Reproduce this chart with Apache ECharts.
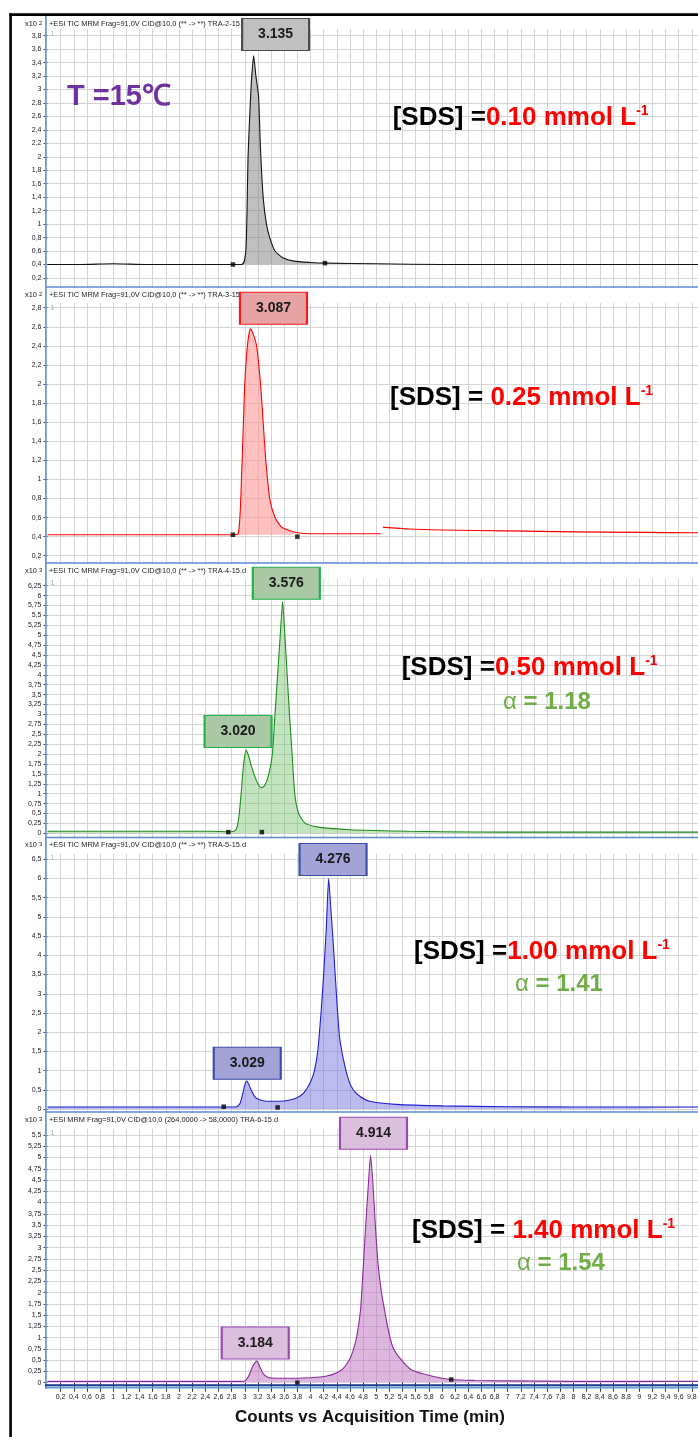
<!DOCTYPE html>
<html>
<head>
<meta charset="utf-8">
<script src="https://cdn.jsdelivr.net/npm/echarts@6/dist/echarts.min.js"></script>
<style>
  html, body { margin: 0; padding: 0; background: #fff; }
  #chart { width: 698px; height: 1437px; }
</style>
</head>
<body>
<div id="chart"></div>
<script>
// ---- Chromatogram traces: retention time (min) and counts (scaled by 10^n) ----
const timeP1  = [0, 0.5, 1.0, 1.5, 2.0, 2.5, 2.82, 2.95, 2.98, 3.0, 3.02, 3.035, 3.05, 3.08, 3.10, 3.135, 3.17, 3.21, 3.24, 3.28, 3.33, 3.38, 3.46, 3.58, 3.75, 4.0, 4.22, 5.0, 6.0, 7.0, 8.0, 9.0, 10.0];
const countP1 = [0.40, 0.40, 0.41, 0.40, 0.40, 0.40, 0.40, 0.40, 0.42, 0.48, 0.65, 1.2, 2.0, 2.7, 3.1, 3.5, 3.2, 2.9, 2.1, 1.4, 1.0, 0.8, 0.6, 0.5, 0.45, 0.43, 0.42, 0.41, 0.40, 0.40, 0.40, 0.40, 0.40];

const timeP2  = [0, 0.5, 1, 1.5, 2, 2.5, 2.82, 2.90, 2.93, 2.95, 2.975, 3.0, 3.04, 3.087, 3.13, 3.18, 3.24, 3.28, 3.32, 3.38, 3.46, 3.56, 3.7, 3.8, 4.0, 4.5, 5.07, 5.085, 5.1, 5.5, 6, 7, 8, 9, 10];
const countP2 = [0.42, 0.42, 0.42, 0.42, 0.42, 0.42, 0.42, 0.43, 0.65, 1.0, 1.5, 2.0, 2.4, 2.58, 2.52, 2.4, 2.0, 1.6, 1.2, 0.8, 0.6, 0.5, 0.46, 0.44, 0.43, 0.43, 0.43, '-', 0.50, 0.48, 0.47, 0.46, 0.45, 0.445, 0.44];

const timeP3  = [0, 1, 2, 2.5, 2.75, 2.85, 2.89, 2.92, 2.95, 2.98, 3.02, 3.06, 3.10, 3.15, 3.20, 3.25, 3.30, 3.36, 3.42, 3.46, 3.50, 3.54, 3.576, 3.61, 3.645, 3.68, 3.72, 3.76, 3.82, 3.92, 4.05, 4.25, 4.6, 5.0, 5.5, 6.0, 7.0, 8.0, 9.0, 10.0];
const countP3 = [0.05, 0.05, 0.05, 0.05, 0.04, 0.06, 0.2, 0.55, 1.1, 1.7, 2.1, 1.95, 1.7, 1.45, 1.25, 1.15, 1.2, 1.45, 2.0, 3.0, 4.0, 5.0, 5.85, 5.0, 4.0, 3.0, 2.0, 1.0, 0.5, 0.25, 0.18, 0.13, 0.09, 0.07, 0.05, 0.04, 0.03, 0.03, 0.03, 0.03];

const timeP4  = [0, 1, 2, 2.68, 2.88, 2.93, 2.97, 3.0, 3.029, 3.06, 3.10, 3.15, 3.20, 3.30, 3.45, 3.60, 3.70, 3.80, 3.90, 4.00, 4.06, 4.11, 4.16, 4.20, 4.24, 4.276, 4.31, 4.35, 4.39, 4.44, 4.50, 4.58, 4.65, 4.75, 4.90, 5.30, 6.0, 7.0, 8.0, 9.0, 10.0];
const countP4 = [0.05, 0.05, 0.05, 0.05, 0.06, 0.15, 0.4, 0.62, 0.73, 0.65, 0.48, 0.33, 0.26, 0.21, 0.2, 0.21, 0.24, 0.3, 0.42, 0.7, 1.0, 1.5, 2.5, 3.5, 4.7, 6.0, 5.2, 4.2, 3.1, 1.9, 1.3, 0.75, 0.5, 0.33, 0.2, 0.12, 0.08, 0.06, 0.05, 0.05, 0.05];

const timeP5  = [0, 1, 2, 2.9, 3.0, 3.06, 3.12, 3.184, 3.23, 3.28, 3.35, 3.5, 3.8, 4.0, 4.25, 4.4, 4.5, 4.58, 4.64, 4.7, 4.76, 4.8, 4.84, 4.88, 4.914, 4.95, 4.99, 5.03, 5.08, 5.14, 5.19, 5.25, 5.34, 5.54, 5.84, 6.14, 6.5, 7, 8, 9, 10];
const countP5 = [0.03, 0.03, 0.03, 0.03, 0.04, 0.15, 0.36, 0.48, 0.35, 0.2, 0.12, 0.1, 0.1, 0.11, 0.15, 0.22, 0.32, 0.48, 0.68, 1.0, 1.6, 2.5, 3.5, 4.4, 5.05, 4.4, 3.4, 2.6, 2.0, 1.5, 1.13, 0.8, 0.58, 0.28, 0.15, 0.07, 0.05, 0.04, 0.03, 0.03, 0.03];

// ---- Integration start/end markers ----
const markerTimeP1 = [2.82, 4.22], markerCountP1 = [0.40, 0.42];
const markerTimeP2 = [2.82, 3.80], markerCountP2 = [0.42, 0.40];
const markerTimeP3 = [2.75, 3.26], markerCountP3 = [0.03, 0.03];
const markerTimeP4 = [2.68, 3.50], markerCountP4 = [0.06, 0.04];
const markerTimeP5 = [3.80, 6.14], markerCountP5 = [0.00, 0.07];

// ---- Labelled peak retention times ----
const peakTimesP1 = [3.135];
const peakTimesP2 = [3.087];
const peakTimesP3 = [3.020, 3.576];
const peakTimesP4 = [3.029, 4.276];
const peakTimesP5 = [3.184, 4.914];

// ---- Annotations ----
const sdsLevels = ['0.10', '0.25', '0.50', '1.00', '1.40'];
const alphaValues = [null, null, '1.18', '1.41', '1.54'];
const scaleExponents = ['2', '2', '3', '3', '3'];
const traceTitles = [
  '+ESI TIC MRM Frag=91,0V CID@10,0 (** -> **) TRA-2-15.d',
  '+ESI TIC MRM Frag=91,0V CID@10,0 (** -> **) TRA-3-15.d',
  '+ESI TIC MRM Frag=91,0V CID@10,0 (** -> **) TRA-4-15.d',
  '+ESI TIC MRM Frag=91,0V CID@10,0 (** -> **) TRA-5-15.d',
  '+ESI MRM Frag=91,0V CID@10,0 (264,0000 -> 58,0000) TRA-6-15.d'
];
const temperatureLabel = 'T =15\u2103';
const xAxisTitle = 'Counts vs Acquisition Time (min)';

// ---- Axis ticks ----
const xRange = [0, 10];
const xTickStep = 0.2;
const yRanges = [[0, 3.9], [0, 2.85], [-0.25, 6.45], [-0.5, 6.65], [0, 5.65]];
const yTickSteps = [0.2, 0.2, 0.25, 0.5, 0.25];

// ---- Layout and styling ----
const FONT = '"Liberation Sans", Arial, Helvetica, sans-serif';
const PLOT_LEFT = 47.5, PLOT_WIDTH = 657.5;
const GRID_COLOR = '#d5d5d5';

const panels = [
  { top: 16,    gridTop: 28.97,   gridBottom: 291.4,
    line: '#111111', fill: 'rgba(128,128,128,0.5)', fillToBaseline: true,
    boxFill: '#c0c0c0', boxBorder: '#4a4a4a', boxOffsets: [[22, -21.4]],
    sdsPos: [392.7, 117.7], sdsEq: '[SDS] =', alphaPos: null },
  { top: 287,   gridTop: 302.93,  gridBottom: 574.8,
    line: '#ff0000', fill: 'rgba(255,150,150,0.6)', fillToBaseline: true,
    boxFill: '#e5a3a3', boxBorder: '#ff1a1a', boxOffsets: [[23, -20.4]],
    sdsPos: [390, 398], sdsEq: '[SDS] = ', alphaPos: null },
  { top: 563,   gridTop: 577.78,  gridBottom: 843.2,
    line: '#1e8c1e', fill: 'rgba(110,190,100,0.42)', fillToBaseline: false,
    boxFill: '#a8c9a3', boxBorder: '#22b04b', boxOffsets: [[-8, -18.6], [3.7, -18.2]],
    sdsPos: [401.7, 668], sdsEq: '[SDS] =', alphaPos: [503, 702] },
  { top: 837.5, gridTop: 853.54,  gridBottom: 1128.2,
    line: '#1f1fd0', fill: 'rgba(120,120,225,0.5)', fillToBaseline: false,
    boxFill: '#a3a3d8', boxBorder: '#3b4ea5', boxOffsets: [[0.6, -17.6], [4.4, -19]],
    sdsPos: [414, 952], sdsEq: '[SDS] =', alphaPos: [515, 984] },
  { top: 1112,  gridTop: 1128.25, gridBottom: 1382.7,
    line: '#8b2a9b', fill: 'rgba(185,110,190,0.5)', fillToBaseline: false,
    boxFill: '#dcbedf', boxBorder: '#9a4ab0', boxOffsets: [[-1.6, -18.1], [2.9, -22]],
    sdsPos: [412, 1231], sdsEq: '[SDS] = ', alphaPos: [517, 1263] }
];

const traces = [
  { time: timeP1, count: countP1, mt: markerTimeP1, mc: markerCountP1, peaks: peakTimesP1 },
  { time: timeP2, count: countP2, mt: markerTimeP2, mc: markerCountP2, peaks: peakTimesP2 },
  { time: timeP3, count: countP3, mt: markerTimeP3, mc: markerCountP3, peaks: peakTimesP3 },
  { time: timeP4, count: countP4, mt: markerTimeP4, mc: markerCountP4, peaks: peakTimesP4 },
  { time: timeP5, count: countP5, mt: markerTimeP5, mc: markerCountP5, peaks: peakTimesP5 }
];

const commaNum = v => String(Math.round(v * 100) / 100).replace('.', ',');

const grids = [], xAxes = [], yAxes = [], series = [], graphics = [];
const last = panels.length - 1;

panels.forEach((p, i) => {
  grids.push({
    left: PLOT_LEFT, top: p.gridTop, width: PLOT_WIDTH, height: p.gridBottom - p.gridTop,
    containLabel: false, outerBoundsMode: 'none'
  });
  xAxes.push({
    type: 'value', gridIndex: i, min: xRange[0], max: xRange[1], interval: xTickStep,
    axisLine: { show: false },
    axisTick: { show: i === last, length: 9, lineStyle: { color: '#333', width: 1 } },
    axisLabel: {
      show: i === last, fontSize: 7, color: '#222', fontFamily: FONT, margin: 11,
      showMinLabel: false, showMaxLabel: false, formatter: commaNum
    },
    splitLine: { show: true, showMinLine: false, showMaxLine: false, lineStyle: { color: GRID_COLOR, width: 1 } }
  });
  yAxes.push({
    type: 'value', gridIndex: i, min: yRanges[i][0], max: yRanges[i][1], interval: yTickSteps[i],
    axisLine: { show: false },
    axisTick: { show: true, length: 4, lineStyle: { color: '#444', width: 1 } },
    axisLabel: {
      fontSize: 7, color: '#222', fontFamily: FONT, margin: 6,
      showMinLabel: i === last, showMaxLabel: false, formatter: commaNum
    },
    splitLine: { show: true, showMinLine: false, showMaxLine: false, lineStyle: { color: GRID_COLOR, width: 1 } }
  });

  const tr = traces[i];
  const pts = tr.time.map((t, k) => [t, tr.count[k]]);

  if (p.fillToBaseline) {
    // integrated peak area, filled down to the integration baseline
    const seg = pts.filter(d => d[0] >= tr.mt[0] && d[0] <= tr.mt[1]);
    series.push({
      type: 'line', xAxisIndex: i, yAxisIndex: i, data: seg, smooth: 0.2,
      symbol: 'none', silent: true, z: 2,
      lineStyle: { width: 0 },
      areaStyle: { color: p.fill, opacity: 1, origin: tr.mc[0] }
    });
  }

  series.push({
    type: 'line', xAxisIndex: i, yAxisIndex: i, data: pts, smooth: 0.2,
    symbol: 'none', silent: true, connectNulls: false, z: 2,
    lineStyle: { color: p.line, width: 1.1 },
    areaStyle: p.fillToBaseline ? undefined : { color: p.fill, opacity: 1 },
    markPoint: {
      silent: true,
      symbol: 'rect', symbolSize: [67, 32],
      itemStyle: { color: p.boxFill, borderColor: p.boxBorder, borderWidth: 1.5 },
      label: {
        show: true, position: 'inside', formatter: '{b}',
        fontFamily: FONT, fontWeight: 'bold', fontSize: 14, color: '#1a1a1a'
      },
      emphasis: { disabled: true },
      data: tr.peaks.map((t, k) => ({
        name: t.toFixed(3),
        coord: [t, tr.count[tr.time.indexOf(t)]],
        symbolOffset: p.boxOffsets[k]
      }))
    }
  });

  series.push({
    type: 'scatter', xAxisIndex: i, yAxisIndex: i, silent: true, z: 3,
    data: tr.mt.map((t, k) => [t, tr.mc[k]]),
    symbol: 'rect', symbolSize: 4.5, itemStyle: { color: '#000' }
  });

  // white header strip of each panel
  if (i > 0) {
    graphics.push({ type: 'rect', z: 1, silent: true,
      shape: { x: 13, y: p.top + 1, width: 690, height: p.gridTop - p.top - 1 },
      style: { fill: '#ffffff' } });
  }
  // header line above each trace
  const headY = p.top + 7.5;
  graphics.push({ type: 'text', z: 1.5, silent: true, x: 49, y: headY,
    style: { text: traceTitles[i], fontFamily: FONT, fontSize: 7.4, fill: '#222',
             verticalAlign: 'middle', align: 'left' } });
  graphics.push({ type: 'text', z: 3, silent: true, x: 25, y: headY,
    style: { text: '{a|x10 }{b|' + scaleExponents[i] + '}', verticalAlign: 'middle', align: 'left',
             rich: { a: { fontFamily: FONT, fontSize: 7.4, fill: '#222' },
                     b: { fontFamily: FONT, fontSize: 6, fill: '#222', verticalAlign: 'top' } } } });
  graphics.push({ type: 'text', z: 3, silent: true, x: 50.5, y: p.gridTop + 5,
    style: { text: '1', fontFamily: FONT, fontSize: 7, fill: '#aaa', verticalAlign: 'middle' } });

  // concentration annotation
  graphics.push({ type: 'text', z: 3, silent: true, x: p.sdsPos[0], y: p.sdsPos[1],
    style: {
      text: '{a|' + p.sdsEq + '}{b|' + sdsLevels[i] + ' mmol L}{c|-1}',
      verticalAlign: 'middle', align: 'left',
      rich: {
        a: { fontFamily: FONT, fontWeight: 'bold', fontSize: 26, fill: '#000', lineHeight: 28 },
        b: { fontFamily: FONT, fontWeight: 'bold', fontSize: 26, fill: '#ff0000', lineHeight: 28 },
        c: { fontFamily: FONT, fontWeight: 'bold', fontSize: 14, fill: '#ff0000', verticalAlign: 'top', lineHeight: 16 }
      }
    } });
  if (alphaValues[i]) {
    graphics.push({ type: 'text', z: 3, silent: true, x: p.alphaPos[0], y: p.alphaPos[1],
      style: {
        text: '{a|\u03b1 }{b|= ' + alphaValues[i] + '}',
        verticalAlign: 'middle', align: 'left',
        rich: {
          a: { fontFamily: FONT, fontSize: 24, fill: '#70ad47' },
          b: { fontFamily: FONT, fontWeight: 'bold', fontSize: 24, fill: '#70ad47' }
        }
      } });
  }
  // panel separator
  if (i > 0) {
    graphics.push({ type: 'rect', z: 4, silent: true,
      shape: { x: 45, y: p.top - 0.75, width: 660, height: 1.6 }, style: { fill: '#5b8ad0' } });
  }
});

// panel left edge and bottom axis band
graphics.push({ type: 'rect', z: 4, silent: true, shape: { x: 45, y: 15, width: 1.8, height: 1374 }, style: { fill: '#6f9ad6' } });
graphics.push({ type: 'rect', z: 4, silent: true, shape: { x: 45, y: 1384.3, width: 660, height: 2 }, style: { fill: '#1f3a8a' } });
graphics.push({ type: 'rect', z: 4, silent: true, shape: { x: 45, y: 1386.8, width: 660, height: 1.8 }, style: { fill: '#5b9ae0' } });
// outer black frame
graphics.push({ type: 'rect', z: 6, silent: true, shape: { x: 9.3, y: 13.3, width: 2.6, height: 1430 }, style: { fill: '#000' } });
graphics.push({ type: 'rect', z: 6, silent: true, shape: { x: 9.3, y: 13.3, width: 695, height: 2.7 }, style: { fill: '#000' } });
// temperature tag
graphics.push({ type: 'text', z: 3, silent: true, x: 67, y: 97,
  style: { text: temperatureLabel, fontFamily: FONT, fontWeight: 'bold', fontSize: 29, fill: '#7030a0',
           verticalAlign: 'middle', align: 'left' } });
// x-axis title
graphics.push({ type: 'text', z: 3, silent: true, x: 370, y: 1417,
  style: { text: xAxisTitle, fontFamily: FONT, fontWeight: 'bold', fontSize: 17, fill: '#111',
           verticalAlign: 'middle', align: 'center' } });

const chart = echarts.init(document.getElementById('chart'), null, { renderer: 'canvas' });
chart.setOption({
  animation: false,
  backgroundColor: '#ffffff',
  grid: grids,
  xAxis: xAxes,
  yAxis: yAxes,
  series: series,
  graphic: { elements: graphics }
});
</script>
</body>
</html>
